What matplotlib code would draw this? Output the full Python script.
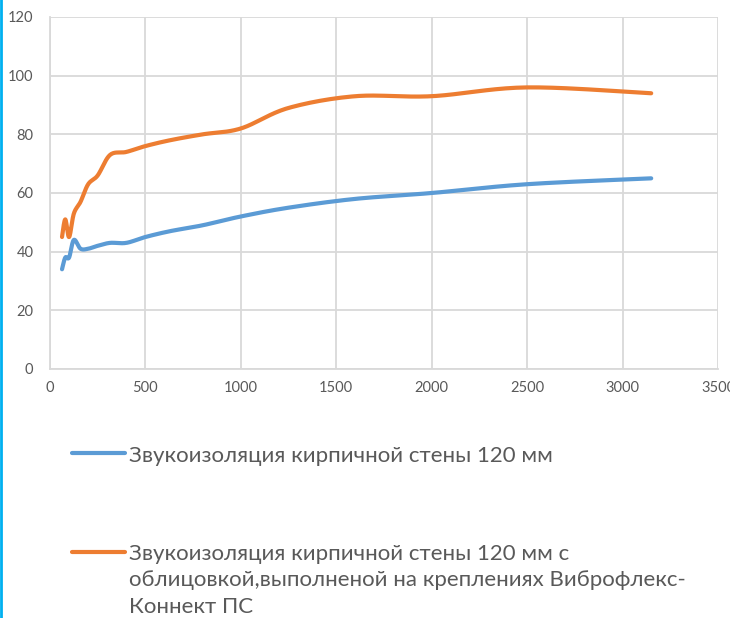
import numpy as np
import matplotlib
matplotlib.use("Agg")
import matplotlib.pyplot as plt
from matplotlib.lines import Line2D

# third-octave frequencies, Hz
freq = [63, 80, 100, 125, 160, 200, 250, 315, 400, 500, 630, 800, 1000,
        1250, 1600, 2000, 2500, 3150]
# brick wall 120 mm
wall = [34, 38, 38, 44, 41, 41, 42, 43, 43, 45, 47, 49, 52,
        55, 58, 60, 63, 65]
# brick wall 120 mm with lining on Vibroflex-Connect PS
lined = [45, 51, 45, 53, 57, 63, 66, 73, 74, 76, 78, 80, 82,
         89, 93, 93, 96, 94]

labels = ["Звукоизоляция кирпичной стены 120 мм",
          "Звукоизоляция кирпичной стены 120 мм с\n"
          "облицовкой,выполненой на креплениях Виброфлекс-\n"
          "Коннект ПС"]

xticks = [0, 500, 1000, 1500, 2000, 2500, 3000, 3500]
yticks = [0, 20, 40, 60, 80, 100, 120]

BLUE = "#5b9bd5"
ORANGE = "#ed7d31"
GREY = "#595959"


def smooth(xs, ys, n=20):
    # catmull-rom curve through the points, like excel's smoothed line
    p = np.column_stack([xs, ys]).astype(float)
    p = np.vstack([p[0], p, p[-1]])
    out = []
    t = np.linspace(0, 1, n, endpoint=False)[:, None]
    for i in range(1, len(p) - 2):
        p0, p1, p2, p3 = p[i - 1], p[i], p[i + 1], p[i + 2]
        seg = 0.5 * ((2 * p1) + (-p0 + p2) * t + (2 * p0 - 5 * p1 + 4 * p2 - p3) * t ** 2
                     + (-p0 + 3 * p1 - 3 * p2 + p3) * t ** 3)
        out.append(seg)
    out.append(p[-2][None, :])
    out = np.vstack(out)
    return out[:, 0], out[:, 1]


plt.rcParams['font.family'] = ['Lato', 'DejaVu Sans']

W, H = 730, 618
fig = plt.figure(figsize=(W / 100, H / 100), dpi=100)
ax = fig.add_axes([50 / W, 1 - 369 / H, 668 / W, 352 / H])

for ys, c in [(wall, BLUE), (lined, ORANGE)]:
    sx, sy = smooth(freq, ys)
    ax.plot(sx, sy, color=c, lw=3, solid_capstyle="round", solid_joinstyle="round", zorder=3)

ax.set_xlim(0, 3500)
ax.set_ylim(0, 120)
ax.set_xticks(xticks)
ax.set_yticks(yticks)
ax.grid(True, color="#d9d9d9", lw=1.3)
ax.set_axisbelow(True)
for s in ["top", "right"]:
    ax.spines[s].set_visible(False)
for s in ["left", "bottom"]:
    ax.spines[s].set_color("#d9d9d9")
    ax.spines[s].set_linewidth(1.3)
ax.tick_params(length=0, labelsize=10.5, labelcolor=GREY)
ax.tick_params(axis="y", pad=12)
ax.tick_params(axis="x", pad=9)
for lab in ax.get_xticklabels():
    lab.set_clip_on(False)

# legend below the plot, drawn by hand
legend_rows = [(labels[0], BLUE, 453, 462), (labels[1], ORANGE, 552, 560)]
for lab, c, ly, base in legend_rows:
    fig.add_artist(Line2D([72 / W, 125 / W], [1 - ly / H, 1 - ly / H], color=c, lw=3,
                          solid_capstyle="round"))
    for k, line in enumerate(lab.split("\n")):
        fig.text(129 / W, 1 - (base + 26.5 * k) / H, line, color=GREY, fontsize=16,
                 va="baseline")

# left border line of the original frame
fig.add_artist(Line2D([1.5 / W, 1.5 / W], [0, 1], color="#00b0f0", lw=2))

fig.savefig("out.png", dpi=100)
